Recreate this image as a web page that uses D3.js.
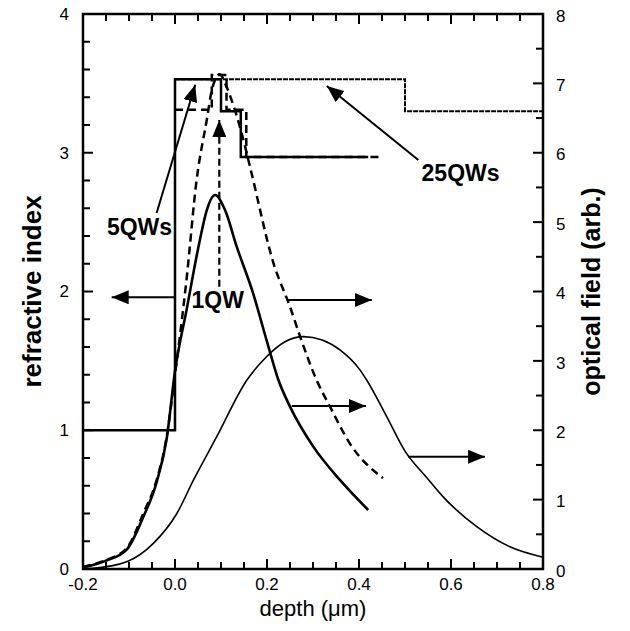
<!DOCTYPE html>
<html>
<head>
<meta charset="utf-8">
<script src="https://cdn.jsdelivr.net/npm/d3@7"></script>
<style>
  body { margin: 0; background: #fff; }
  svg { display: block; }
</style>
</head>
<body>
<div id="chart"></div>
<script>
// ---- data (depth in um, index on left axis, field on right axis) ----
const depthTicks = [-0.2, 0.0, 0.2, 0.4, 0.6, 0.8];
const indexTicks = [0, 1, 2, 3, 4];
const fieldTicks = [0, 1, 2, 3, 4, 5, 6, 7, 8];

// refractive index profiles
const index5QW = [[-0.2, 1.0], [0, 1.0], [0, 3.53], [0.1, 3.53], [0.1, 3.3], [0.143, 3.3], [0.143, 2.97], [0.42, 2.97]];
const index1QW = [[0, 3.31], [0.08, 3.31], [0.08, 3.56], [0.112, 3.56], [0.112, 3.31], [0.155, 3.31], [0.155, 2.97], [0.45, 2.97]];
const index25QW = [[0, 3.53], [0.5, 3.53], [0.5, 3.3], [0.8, 3.3]];

// optical field profiles
const field1QW = [[-0.2, 0.03], [-0.15, 0.13], [-0.105, 0.30], [-0.069, 0.80], [-0.04, 1.28], [-0.018, 1.91], [0, 2.8],
  [0.025, 4.17], [0.047, 5.61], [0.069, 6.47], [0.08, 6.9], [0.097, 7.13], [0.112, 6.95], [0.13, 6.62], [0.145, 6.28],
  [0.163, 5.80], [0.214, 4.41], [0.25, 3.78], [0.272, 3.35], [0.308, 2.72], [0.337, 2.34], [0.38, 1.81], [0.452, 1.31]];
const field5QW = [[-0.2, 0.02], [-0.15, 0.12], [-0.105, 0.28], [-0.069, 0.75], [-0.04, 1.25], [-0.018, 1.88], [0, 2.85],
  [0.025, 3.73], [0.054, 4.74], [0.069, 5.17], [0.087, 5.39], [0.109, 5.17], [0.134, 4.65], [0.17, 3.97], [0.199, 3.30],
  [0.225, 2.72], [0.25, 2.34], [0.301, 1.76], [0.359, 1.28], [0.42, 0.85]];
const field25QW = [[-0.2, 0.0], [-0.178, 0.01], [-0.105, 0.105], [-0.047, 0.37], [0.004, 0.80], [0.04, 1.28], [0.091, 1.91],
  [0.156, 2.72], [0.199, 3.06], [0.24, 3.28], [0.279, 3.35], [0.32, 3.3], [0.36, 3.15], [0.402, 2.87], [0.417, 2.72],
  [0.46, 2.2], [0.5, 1.7], [0.547, 1.32], [0.583, 1.04], [0.656, 0.61], [0.728, 0.32], [0.8, 0.17]];

// annotation arrows, [x1, n1, x2, n2] in depth / index units
const arrowLines = [
  [-0.04, 2.566, 0.044, 3.49],
  [0.529, 2.948, 0.33, 3.481],
  [0.0, 1.958, -0.1376, 1.958],
  [0.243, 1.939, 0.428, 1.939],
  [0.254, 1.175, 0.415, 1.175],
  [0.507, 0.809, 0.674, 0.809]
];
const dashedArrow = [0.0963, 2.035, 0.0963, 3.236];
const labelTexts = ['5QWs', '25QWs', '1QW'];
const labelSpots = [[-0.148, 2.407], [0.536, 2.80], [0.036, 1.88]];

// ---- layout ----
const W = 630, H = 631;
const plotL = 83, plotR = 543, plotT = 14, plotB = 569;
const font = "'Liberation Sans', Arial, Helvetica, sans-serif";

const svg = d3.select('#chart').append('svg')
  .attr('width', W)
  .attr('height', H)
  .style('font-family', font);

svg.append('rect').attr('width', W).attr('height', H).attr('fill', '#fff');

const x = d3.scaleLinear().domain([-0.2, 0.8]).range([plotL, plotR]);
const yL = d3.scaleLinear().domain([0, 4]).range([plotB, plotT]);
const yR = d3.scaleLinear().domain([0, 8]).range([plotB, plotT]);

const minorX = d3.range(0, 21).map(i => -0.2 + i * 0.05);
const minorL = d3.range(0, 21).map(i => i * 0.2);
const minorR = d3.range(0, 17).map(i => i * 0.5);

// inward ticks, drawn as plain lines from the scales
const tickG = svg.append('g').attr('stroke', '#000').attr('stroke-width', 2);
function isMajor(v, list) { return list.some(t => Math.abs(t - v) < 1e-6); }

[plotB, plotT].forEach(yPos => {
  const dir = yPos === plotB ? -1 : 1;
  tickG.selectAll(null)
    .data(minorX)
    .enter()
    .append('line')
    .attr('x1', d => x(d)).attr('x2', d => x(d))
    .attr('y1', yPos)
    .attr('y2', d => yPos + dir * (isMajor(d, depthTicks) ? 10 : 7));
});
tickG.selectAll(null)
  .data(minorL)
  .enter()
  .append('line')
  .attr('y1', d => yL(d)).attr('y2', d => yL(d))
  .attr('x1', plotL)
  .attr('x2', d => plotL + (isMajor(d, indexTicks) ? 10 : 7));
tickG.selectAll(null)
  .data(minorR)
  .enter()
  .append('line')
  .attr('y1', d => yR(d)).attr('y2', d => yR(d))
  .attr('x1', plotR)
  .attr('x2', d => plotR - (isMajor(d, fieldTicks) ? 10 : 7));

// tick labels
const fmtDepth = d => d.toFixed(1).replace('\u2212', '-');
svg.selectAll('.xlab')
  .data(depthTicks)
  .enter()
  .append('text')
  .attr('class', 'xlab')
  .attr('x', d => x(d))
  .attr('y', plotB + 21)
  .attr('text-anchor', 'middle')
  .style('font-size', '17px')
  .text(fmtDepth);

svg.selectAll('.ylab')
  .data(indexTicks)
  .enter()
  .append('text')
  .attr('class', 'ylab')
  .attr('x', plotL - 14)
  .attr('y', d => yL(d))
  .attr('dy', '0.35em')
  .attr('text-anchor', 'end')
  .style('font-size', '17px')
  .text(d => d);

svg.selectAll('.rlab')
  .data(fieldTicks)
  .enter()
  .append('text')
  .attr('class', 'rlab')
  .attr('x', plotR + 13)
  .attr('y', d => yR(d))
  .attr('dy', '0.45em')
  .attr('text-anchor', 'start')
  .style('font-size', '17px')
  .text(d => d);

// frame
svg.append('rect')
  .attr('x', plotL).attr('y', plotT)
  .attr('width', plotR - plotL).attr('height', plotB - plotT)
  .attr('fill', 'none').attr('stroke', '#000').attr('stroke-width', 2.5);

// index steps
const stepLine = d3.line().x(d => x(d[0])).y(d => yL(d[1]));
svg.append('path').attr('d', stepLine(index25QW))
  .attr('fill', 'none').attr('stroke', '#000').attr('stroke-width', 2).attr('stroke-dasharray', '5,1');
svg.append('path').attr('d', stepLine(index1QW))
  .attr('fill', 'none').attr('stroke', '#000').attr('stroke-width', 2.5).attr('stroke-dasharray', '8,5');
svg.append('path').attr('d', stepLine(index5QW))
  .attr('fill', 'none').attr('stroke', '#000').attr('stroke-width', 2.5);

// fields
const fieldLine = d3.line().x(d => x(d[0])).y(d => yR(d[1])).curve(d3.curveMonotoneX);
svg.append('path').attr('d', fieldLine(field25QW))
  .attr('fill', 'none').attr('stroke', '#000').attr('stroke-width', 1.6);
svg.append('path').attr('d', fieldLine(field1QW))
  .attr('fill', 'none').attr('stroke', '#000').attr('stroke-width', 2.5).attr('stroke-dasharray', '8,5');
svg.append('path').attr('d', fieldLine(field5QW))
  .attr('fill', 'none').attr('stroke', '#000').attr('stroke-width', 2.6);

// arrows
svg.append('defs').append('marker')
  .attr('id', 'head')
  .attr('markerUnits', 'userSpaceOnUse')
  .attr('markerWidth', 18).attr('markerHeight', 14)
  .attr('refX', 17).attr('refY', 7)
  .attr('orient', 'auto')
  .append('path').attr('d', 'M0,0 L17,7 L0,14 Z').attr('fill', '#000');

svg.selectAll('.arrow')
  .data(arrowLines)
  .enter()
  .append('line')
  .attr('class', 'arrow')
  .attr('x1', d => x(d[0])).attr('y1', d => yL(d[1]))
  .attr('x2', d => x(d[2])).attr('y2', d => yL(d[3]))
  .attr('stroke', '#000').attr('stroke-width', 2)
  .attr('marker-end', 'url(#head)');

svg.append('line')
  .attr('x1', x(dashedArrow[0])).attr('y1', yL(dashedArrow[1]))
  .attr('x2', x(dashedArrow[2])).attr('y2', yL(dashedArrow[3]))
  .attr('stroke', '#000').attr('stroke-width', 2.2).attr('stroke-dasharray', '7,4')
  .attr('marker-end', 'url(#head)');

svg.selectAll('.qwlabel')
  .data(labelTexts)
  .enter()
  .append('text')
  .attr('class', 'qwlabel')
  .attr('x', (d, i) => x(labelSpots[i][0]))
  .attr('y', (d, i) => yL(labelSpots[i][1]))
  .style('font-size', '23px')
  .style('font-weight', 700)
  .text(d => d);

// axis titles
svg.append('text')
  .attr('transform', `translate(41,${(plotT + plotB) / 2}) rotate(-90)`)
  .attr('text-anchor', 'middle')
  .style('font-size', '26px')
  .style('font-weight', 700)
  .text('refractive index');

svg.append('text')
  .attr('transform', `translate(600,${(plotT + plotB) / 2}) rotate(-90)`)
  .attr('text-anchor', 'middle')
  .style('font-size', '25px')
  .style('font-weight', 700)
  .text('optical field (arb.)');

svg.append('text')
  .attr('x', (plotL + plotR) / 2)
  .attr('y', 616)
  .attr('text-anchor', 'middle')
  .style('font-size', '22px')
  .text('depth (\u03bcm)');
</script>
</body>
</html>
